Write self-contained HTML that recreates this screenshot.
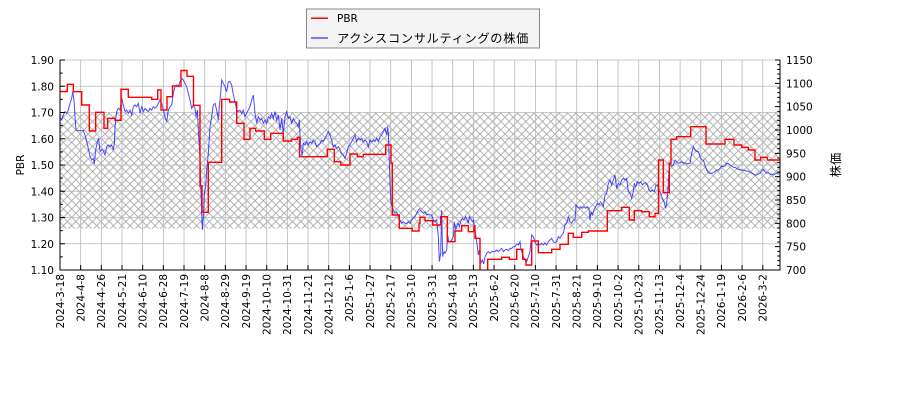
<!DOCTYPE html>
<html><head><meta charset="utf-8"><style>
html,body{margin:0;padding:0;background:#fff;}
svg{display:block;}
.t{font-family:"DejaVu Sans","Liberation Sans",sans-serif;font-size:10.5px;fill:#000;}
.j{font-family:"Liberation Sans","Noto Sans CJK JP",sans-serif;font-size:12.2px;fill:#000;}
</style></head><body>
<svg width="900" height="400" viewBox="0 0 900 400" xmlns="http://www.w3.org/2000/svg">
<defs>
<pattern id="h" patternUnits="userSpaceOnUse" x="313.33" y="184" width="8.333" height="8.333">
<path d="M-1,-1 L9.333,9.333 M9.333,-1 L-1,9.333" stroke="#a4a4a4" stroke-width="0.8" fill="none"/>
</pattern>
<clipPath id="c"><rect x="60" y="60" width="720" height="210"/></clipPath>
</defs>
<rect x="0" y="0" width="900" height="400" fill="#fff"/>
<rect x="60" y="112.5" width="720" height="116.2" fill="url(#h)"/>
<g stroke="#b8b8b8" stroke-width="0.8" fill="none">
<path d="M60,60H780M60,86.25H780M60,112.5H780M60,138.75H780M60,165H780M60,191.25H780M60,217.5H780M60,243.75H780"/>
<path d="M80.67,60V270M101.34,60V270M122.01,60V270M142.68,60V270M163.35,60V270M184.02,60V270M204.69,60V270M225.36,60V270M246.03,60V270M266.7,60V270M287.37,60V270M308.04,60V270M328.71,60V270M349.38,60V270M370.05,60V270M390.72,60V270M411.39,60V270M432.06,60V270M452.73,60V270M473.4,60V270M494.07,60V270M514.74,60V270M535.41,60V270M556.08,60V270M576.75,60V270M597.42,60V270M618.09,60V270M638.76,60V270M659.43,60V270M680.1,60V270M700.77,60V270M721.44,60V270M742.11,60V270M762.78,60V270"/>
</g>
<g clip-path="url(#c)" fill="none">
<g stroke="#0000ff" stroke-opacity="0.7" stroke-width="1">
<g transform="translate(60,60) scale(0.33333)"><polyline vector-effect="non-scaling-stroke" points="0,170 5,180 10,165 15,155 20,160 25,150 30,130 35,115 38,95 42,120 45,170 48,210 55,212 70,212 75,225 85,265 90,290 95,300 100,295 103,312 107,270 112,245 116,235 120,275 125,268 130,272 135,285 140,260 145,255 150,260 155,255 160,270 163,250 165,200 170,155 175,145 180,150 185,115 190,135 195,155 200,150 205,160 210,150 215,165 220,140 225,135 230,140 235,130 240,160 245,140 250,155 255,145 260,150 265,155 270,145 275,150 280,140 285,145 290,140 295,130 300,120 305,130 310,150 315,170 320,185 325,150 330,140 335,135 340,100 345,80 350,75 355,80 360,65 365,55 370,60 375,70 380,80 385,100 390,120 395,145 400,135 405,145 408,170 412,150 415,210 420,290 423,400 427,510 430,470 433,400 437,380 440,330 445,280 450,200 455,170 460,135 465,130 470,150 475,180 478,140 482,100 485,60 490,70 495,80 500,95 505,65 510,65 515,75 520,105 525,125 530,150 535,155 540,150"/></g>
<g transform="translate(240,60) scale(0.33333)"><polyline vector-effect="non-scaling-stroke" points="0,150 5,160 10,150 15,170 20,160 25,150 30,140 35,120 40,105 45,160 50,190 55,170 60,180 65,175 70,190 75,180 80,190 85,170 90,175 95,160 100,175 105,155 110,180 115,165 120,210 125,175 130,220 135,170 140,155 145,175 150,170 155,190 160,175 165,185 170,190 175,200 178,180 180,225 183,270 187,285 190,250 195,255 200,245 205,255 210,245 215,250 220,240 225,245 230,260 235,255 240,250 245,240 250,245 255,235 260,225 265,215 270,225 275,240 280,260 285,255 290,265 295,260 300,270 305,280 310,285 315,295 320,280 325,260 330,255 335,245 340,235 345,225 350,245 355,235 360,240 365,235 370,245 375,240 380,245 385,260 390,240 395,245 400,240 405,245 410,235 415,245 420,230 425,225 430,215 435,205 440,225 443,200 445,220 447,280 450,370 453,430 457,440 460,450 465,460 470,455 475,470 480,480 485,490 490,485 495,490 500,490 505,485 510,490 515,480 520,475 525,470 530,460 535,450 540,445"/></g>
<g transform="translate(420,60) scale(0.33333)"><polyline vector-effect="non-scaling-stroke" points="0,450 5,455 10,460 15,455 20,465 25,462 30,465 35,465 40,480 45,485 50,480 55,530 58,605 62,580 65,450 68,590 72,575 75,580 80,570 83,525 86,545 90,545 95,540 100,530 103,485 107,510 110,500 115,490 118,500 122,485 127,475 132,480 137,470 140,475 145,490 148,470 152,475 157,485 160,480 165,510 170,545 175,585 178,570 182,610 187,600 191,612 195,590 200,580 205,575 210,580 215,575 220,575 225,575 230,570 235,575 240,570 245,565 250,575 255,570 260,568 265,572 270,565 275,565 280,560 285,560 290,552 295,555 300,545 303,570 307,580 310,590 315,600 320,605 325,590 330,575 335,525 340,530 345,545 350,555 355,550 360,555 365,550 370,555 375,548 380,555 385,545 390,540 395,535 400,545 405,548 410,545 415,530 420,535 425,525 430,520 435,495 440,490 445,470 450,485 455,490 460,480 465,480 468,435 472,440 477,445 482,440 487,445 492,440 497,445 502,440 507,445 510,480 513,455 517,465 522,450 527,440 532,430 537,435 540,430"/></g>
<g transform="translate(600,60) scale(0.33333)"><polyline vector-effect="non-scaling-stroke" points="0,425 5,430 10,440 15,405 20,400 25,370 30,360 35,375 40,360 45,345 50,385 55,370 60,375 65,360 70,355 75,360 80,355 85,395 90,400 95,415 100,395 103,370 107,380 112,365 117,370 122,365 127,375 132,370 137,368 142,375 147,390 152,395 157,390 163,395 168,375 172,375 177,390 182,400 187,415 192,425 197,445 200,430 203,400 207,330 210,310 215,318 220,315 225,300 230,305 235,310 240,308 245,305 250,310 255,308 260,312 265,310 270,310 275,280 280,260 285,270 290,275 295,275 300,290 305,300 310,300 315,315 320,330 325,338 330,340 335,340 340,338 345,335 350,330 355,330 360,325 365,318 370,320 375,318 380,310 385,310 390,315 395,318 400,322 405,322 410,325 415,328 420,330 425,330 430,330 435,332 440,333 445,333 450,336 455,340 460,342 465,345 470,345 475,342 480,340 485,332 490,328 495,335 500,340 505,338 510,343 515,342 520,345 525,342 530,340 535,338 540,340"/></g>
</g>
<path stroke="#ff0000" stroke-width="1.4" d="M60,91.5H67.3V84.3H73.3V91.7H81.7V105H89.3V131H95.7V112.3H104V128.3H107.7V118.3H115V120.3H121V89.3H128.3V97.3H151.7V99.3H157.7V90H161V110H167V96.7H172.5V86H181V70.5H187V76.3H193.5V105.3H200V186H202V212.3H208.3V162.3H221.7V99.3H229.7V102H236.7V123.3H244V139.3H250V128.3H255.7V131H264.3V139.3H270.7V133.3H283.3V141H291.7V139.3H297.3V137.3H299.5V156.7H327.3V149.3H334.3V161.7H340.7V165H350V154H357.3V156.7H363.3V154.3H385.7V145H391V163H392.3V215H399.3V228.3H412.3V231H419V223.3H420V217.3H425V220.7H432.7V225H440.7V216.7H447.3V241.7H455V231H461.7V225.7H468.3V231.7H474V226H475V238.3H480V272H487.7V259.3H501.7V257.3H509.3V259.3H516.7V249.3H522.7V259.3H526V265H531.7V241H538.3V252.7H551.7V249.3H560V244.3H568.3V233.3H573.3V237.3H581.7V232.3H588.3V231H607.3V210.7H621.7V207.3H629.3V220H634.3V210.7H641.7V211.7H649.3V216.7H655V213.3H658.5V160H663.3V192.7H669.3V163.3H671V139.3H676.7V136.7H690.7V126.7H706V144H725V139.3H734V145H741.7V147.3H748.3V150H755V160H760.7V157.3H767.3V160H780"/>
</g>
<g stroke="#000" stroke-width="1" fill="none">
<path d="M60,60V270.5M780,60V270.5M59.5,270H780.5"/>
<path d="M60,60H65M60,86.25H65M60,112.5H65M60,138.75H65M60,165H65M60,191.25H65M60,217.5H65M60,243.75H65"/>
<path d="M60,256.875H62.8M60,230.625H62.8M60,204.375H62.8M60,178.125H62.8M60,151.875H62.8M60,125.625H62.8M60,99.375H62.8M60,73.125H62.8"/>
<path d="M780,60H775M780,83.33H775M780,106.67H775M780,130H775M780,153.33H775M780,176.67H775M780,200H775M780,223.33H775M780,246.67H775"/>
<path d="M780,265.33H777.2M780,260.67H777.2M780,256H777.2M780,251.33H777.2M780,242H777.2M780,237.33H777.2M780,232.67H777.2M780,228H777.2M780,218.67H777.2M780,214H777.2M780,209.33H777.2M780,204.67H777.2M780,195.33H777.2M780,190.67H777.2M780,186H777.2M780,181.33H777.2M780,172H777.2M780,167.33H777.2M780,162.67H777.2M780,158H777.2M780,148.67H777.2M780,144H777.2M780,139.33H777.2M780,134.67H777.2M780,125.33H777.2M780,120.67H777.2M780,116H777.2M780,111.33H777.2M780,102H777.2M780,97.33H777.2M780,92.67H777.2M780,88H777.2M780,78.67H777.2M780,74H777.2M780,69.33H777.2M780,64.67H777.2"/>
<path d="M80.67,270V265M101.34,270V265M122.01,270V265M142.68,270V265M163.35,270V265M184.02,270V265M204.69,270V265M225.36,270V265M246.03,270V265M266.7,270V265M287.37,270V265M308.04,270V265M328.71,270V265M349.38,270V265M370.05,270V265M390.72,270V265M411.39,270V265M432.06,270V265M452.73,270V265M473.4,270V265M494.07,270V265M514.74,270V265M535.41,270V265M556.08,270V265M576.75,270V265M597.42,270V265M618.09,270V265M638.76,270V265M659.43,270V265M680.1,270V265M700.77,270V265M721.44,270V265M742.11,270V265M762.78,270V265"/>
</g>
<g class="t" text-anchor="end">
<text x="54" y="64">1.90</text><text x="54" y="90.25">1.80</text><text x="54" y="116.5">1.70</text><text x="54" y="142.75">1.60</text><text x="54" y="169">1.50</text><text x="54" y="195.25">1.40</text><text x="54" y="221.5">1.30</text><text x="54" y="247.75">1.20</text><text x="54" y="274">1.10</text>
</g>
<g class="t" text-anchor="start">
<text x="786" y="64">1150</text><text x="786" y="87.33">1100</text><text x="786" y="110.67">1050</text><text x="786" y="134">1000</text><text x="786" y="157.33">950</text><text x="786" y="180.67">900</text><text x="786" y="204">850</text><text x="786" y="227.33">800</text><text x="786" y="250.67">750</text><text x="786" y="274">700</text>
</g>
<g class="t" text-anchor="end">
<text transform="translate(63.8,274) rotate(-90)">2024-3-18</text>
<text transform="translate(84.47,274) rotate(-90)">2024-4-8</text>
<text transform="translate(105.14,274) rotate(-90)">2024-4-26</text>
<text transform="translate(125.81,274) rotate(-90)">2024-5-21</text>
<text transform="translate(146.48,274) rotate(-90)">2024-6-10</text>
<text transform="translate(167.15,274) rotate(-90)">2024-6-28</text>
<text transform="translate(187.82,274) rotate(-90)">2024-7-19</text>
<text transform="translate(208.49,274) rotate(-90)">2024-8-8</text>
<text transform="translate(229.16,274) rotate(-90)">2024-8-29</text>
<text transform="translate(249.83,274) rotate(-90)">2024-9-19</text>
<text transform="translate(270.5,274) rotate(-90)">2024-10-10</text>
<text transform="translate(291.17,274) rotate(-90)">2024-10-31</text>
<text transform="translate(311.84,274) rotate(-90)">2024-11-21</text>
<text transform="translate(332.51,274) rotate(-90)">2024-12-12</text>
<text transform="translate(353.18,274) rotate(-90)">2025-1-6</text>
<text transform="translate(373.85,274) rotate(-90)">2025-1-27</text>
<text transform="translate(394.52,274) rotate(-90)">2025-2-17</text>
<text transform="translate(415.19,274) rotate(-90)">2025-3-10</text>
<text transform="translate(435.86,274) rotate(-90)">2025-3-31</text>
<text transform="translate(456.53,274) rotate(-90)">2025-4-18</text>
<text transform="translate(477.2,274) rotate(-90)">2025-5-13</text>
<text transform="translate(497.87,274) rotate(-90)">2025-6-2</text>
<text transform="translate(518.54,274) rotate(-90)">2025-6-20</text>
<text transform="translate(539.21,274) rotate(-90)">2025-7-10</text>
<text transform="translate(559.88,274) rotate(-90)">2025-7-31</text>
<text transform="translate(580.55,274) rotate(-90)">2025-8-21</text>
<text transform="translate(601.22,274) rotate(-90)">2025-9-10</text>
<text transform="translate(621.89,274) rotate(-90)">2025-10-2</text>
<text transform="translate(642.56,274) rotate(-90)">2025-10-23</text>
<text transform="translate(663.23,274) rotate(-90)">2025-11-13</text>
<text transform="translate(683.9,274) rotate(-90)">2025-12-4</text>
<text transform="translate(704.57,274) rotate(-90)">2025-12-24</text>
<text transform="translate(725.24,274) rotate(-90)">2026-1-19</text>
<text transform="translate(745.91,274) rotate(-90)">2026-2-6</text>
<text transform="translate(766.58,274) rotate(-90)">2026-3-2</text>
</g>
<text class="t" text-anchor="middle" transform="translate(24,165) rotate(-90)">PBR</text>
<text class="j" text-anchor="middle" transform="translate(840,165) rotate(-90)">株価</text>
<rect x="306.5" y="9" width="233" height="39" fill="#f4f4f4" stroke="#888" stroke-width="1"/>
<path d="M311,18.3H328" stroke="#ff0000" stroke-width="1.5"/>
<path d="M311,38H328" stroke="#0000ff" stroke-opacity="0.65" stroke-width="1.5"/>
<text class="t" x="337" y="22">PBR</text>
<text class="j" x="337" y="42.5" style="letter-spacing:0.7px">アクシスコンサルティングの株価</text>
</svg>
</body></html>
